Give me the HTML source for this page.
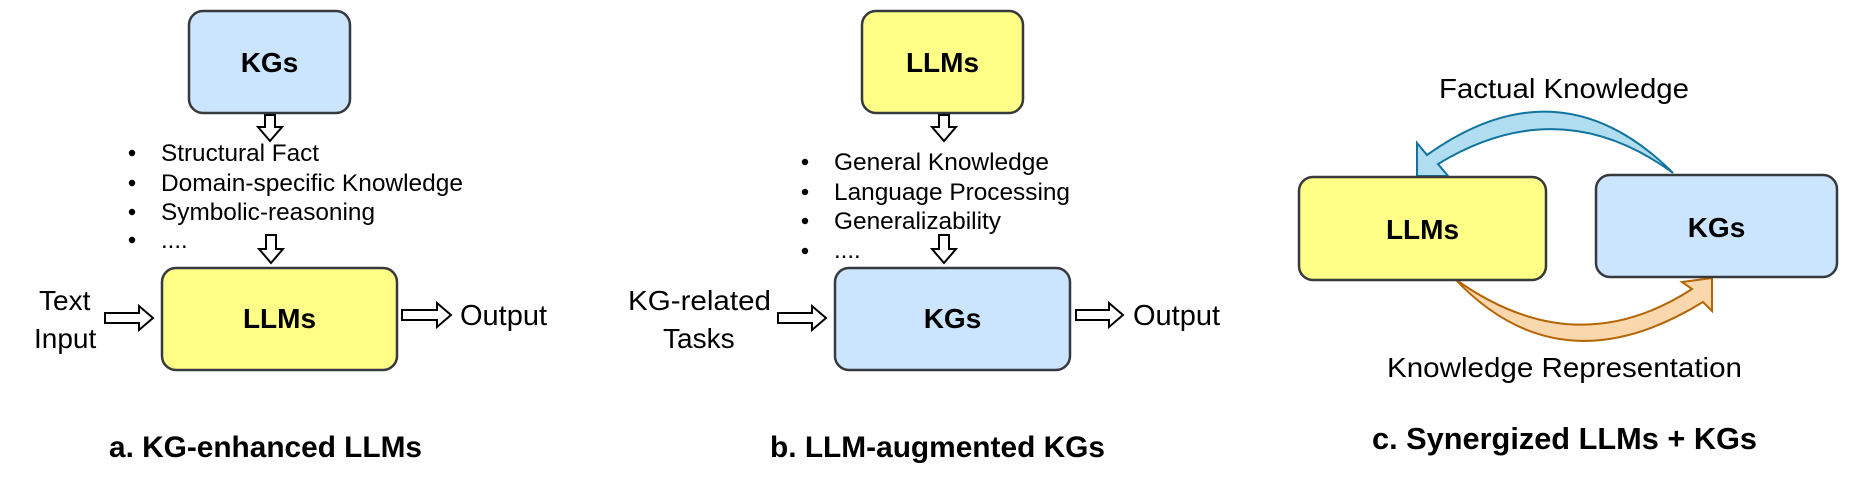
<!DOCTYPE html>
<html><head><meta charset="utf-8"><style>
html,body{margin:0;padding:0;background:#fff;}
svg{display:block;}
text{font-family:"Liberation Sans",Arial,sans-serif;fill:#000;}
.b{font-weight:bold;}
</style></head><body>
<svg width="1860" height="485" viewBox="0 0 1860 485" xmlns="http://www.w3.org/2000/svg">
<!-- Panel a -->
<rect x="189" y="11" width="161" height="102" rx="14" fill="#cce5ff" stroke="#36393d" stroke-width="2.5"/>
<text x="269.5" y="72" class="b" font-size="28" text-anchor="middle">KGs</text>
<polygon points="265,115 275,115 275,127 282,127 270,141 258,127 265,127" fill="#fff" stroke="#000" stroke-width="2"/>
<g font-size="24">
<circle cx="132" cy="153" r="3.2"/><text x="161" y="161" textLength="158" lengthAdjust="spacingAndGlyphs">Structural Fact</text>
<circle cx="132" cy="183" r="3.2"/><text x="161" y="191" textLength="302" lengthAdjust="spacingAndGlyphs">Domain-specific Knowledge</text>
<circle cx="132" cy="212" r="3.2"/><text x="161" y="220" textLength="214" lengthAdjust="spacingAndGlyphs">Symbolic-reasoning</text>
<circle cx="132" cy="240" r="3.2"/><text x="161" y="248">....</text>
</g>
<polygon points="266,235 276,235 276,249 283,249 271,263 259,249 266,249" fill="#fff" stroke="#000" stroke-width="2"/>
<rect x="162" y="268" width="235" height="102" rx="14" fill="#ffff88" stroke="#36393d" stroke-width="2.5"/>
<text x="279.5" y="328" class="b" font-size="28" text-anchor="middle">LLMs</text>
<text x="39" y="310" font-size="28">Text</text>
<text x="34" y="348" font-size="28">Input</text>
<polygon points="105,313 139,313 139,306 153,318 139,330 139,323 105,323" fill="#fff" stroke="#000" stroke-width="2"/>
<polygon points="402,310 437,310 437,303 451,315 437,327 437,320 402,320" fill="#fff" stroke="#000" stroke-width="2"/>
<text x="460" y="325" font-size="29">Output</text>
<text x="109" y="457" class="b" font-size="30" textLength="313" lengthAdjust="spacingAndGlyphs">a. KG-enhanced LLMs</text>

<!-- Panel b -->
<rect x="862" y="11" width="161" height="102" rx="14" fill="#ffff88" stroke="#36393d" stroke-width="2.5"/>
<text x="942.5" y="72" class="b" font-size="28" text-anchor="middle">LLMs</text>
<polygon points="939,115 949,115 949,127 956,127 944,141 932,127 939,127" fill="#fff" stroke="#000" stroke-width="2"/>
<g font-size="24">
<circle cx="805" cy="162" r="3.2"/><text x="834" y="170" textLength="215" lengthAdjust="spacingAndGlyphs">General Knowledge</text>
<circle cx="805" cy="192" r="3.2"/><text x="834" y="200" textLength="236" lengthAdjust="spacingAndGlyphs">Language Processing</text>
<circle cx="805" cy="221" r="3.2"/><text x="834" y="229" textLength="167" lengthAdjust="spacingAndGlyphs">Generalizability</text>
<circle cx="805" cy="251" r="3.2"/><text x="834" y="258">....</text>
</g>
<polygon points="939,235 949,235 949,249 956,249 944,263 932,249 939,249" fill="#fff" stroke="#000" stroke-width="2"/>
<rect x="835" y="268" width="235" height="102" rx="14" fill="#cce5ff" stroke="#36393d" stroke-width="2.5"/>
<text x="952.5" y="328" class="b" font-size="28" text-anchor="middle">KGs</text>
<text x="628" y="310" font-size="28" textLength="143" lengthAdjust="spacingAndGlyphs">KG-related</text>
<text x="663" y="348" font-size="28">Tasks</text>
<polygon points="778,313 812,313 812,306 826,318 812,330 812,323 778,323" fill="#fff" stroke="#000" stroke-width="2"/>
<polygon points="1076,310 1109,310 1109,303 1123,315 1109,327 1109,320 1076,320" fill="#fff" stroke="#000" stroke-width="2"/>
<text x="1133" y="325" font-size="29">Output</text>
<text x="770" y="457" class="b" font-size="30" textLength="335" lengthAdjust="spacingAndGlyphs">b. LLM-augmented KGs</text>

<!-- Panel c -->
<path d="M1673,173 Q1560,60 1427,155 L1417,143 L1417,176 L1448,176 L1438,164 Q1560,90 1673,173 Z" fill="#b1ddf0" stroke="#10739e" stroke-width="2" stroke-linejoin="miter"/>
<path d="M1455,279 Q1560,390 1703,302 L1712,311 L1712,278 L1682,282 L1692,289 Q1575,365 1455,279 Z" fill="#fad7ac" stroke="#b46504" stroke-width="2"/>
<rect x="1299" y="177" width="247" height="103" rx="14" fill="#ffff88" stroke="#36393d" stroke-width="2.5"/>
<text x="1422.5" y="239" class="b" font-size="28" text-anchor="middle">LLMs</text>
<rect x="1596" y="175" width="241" height="102" rx="14" fill="#cce5ff" stroke="#36393d" stroke-width="2.5"/>
<text x="1716.5" y="237" class="b" font-size="28" text-anchor="middle">KGs</text>
<text x="1439" y="98" font-size="28" textLength="250" lengthAdjust="spacingAndGlyphs">Factual Knowledge</text>
<text x="1387" y="377" font-size="28" textLength="355" lengthAdjust="spacingAndGlyphs">Knowledge Representation</text>
<text x="1372" y="449" class="b" font-size="31" textLength="385" lengthAdjust="spacingAndGlyphs">c. Synergized LLMs + KGs</text>
</svg>
</body></html>
